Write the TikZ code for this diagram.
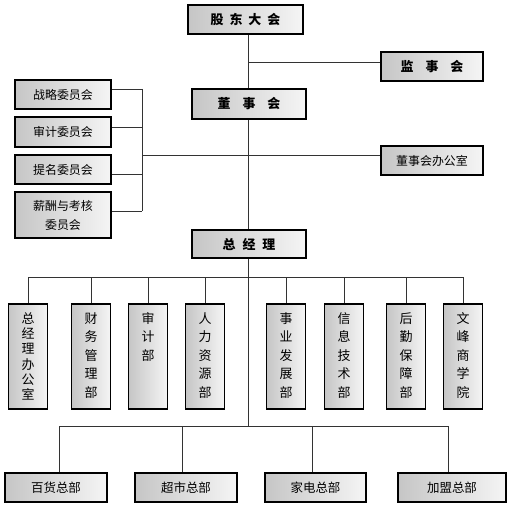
\documentclass[tikz,border=0pt]{standalone}
\usepackage{fontspec}
\newfontfamily\cjk{Noto Sans CJK SC}
\begin{document}
\begin{tikzpicture}[x=1bp,y=-1bp,
  box/.style={draw=black, line width=1.8bp, left color=gray!45, right color=gray!8,
    inner sep=0pt, font=\cjk\fontsize{12}{14}\selectfont},
  hbox/.style={box, minimum width=#1},
  topbox/.style={box, font=\cjk\bfseries\fontsize{13}{15}\selectfont},
  vbox/.style={box, minimum width=39bp, minimum height=105bp},
  vtext/.style={anchor=north, inner sep=0pt, align=center, font=\cjk\fontsize{13}{18.6}\selectfont},
  ln/.style={draw=black!80, line width=0.8bp}]
\useasboundingbox (0,0) rectangle (510,507);

% top level
\node[topbox, minimum width=115bp, minimum height=29bp] (gd) at (245.5,19.5) {股\hspace{6bp}东\hspace{6bp}大\hspace{6bp}会};
\node[topbox, minimum width=102bp, minimum height=29bp] (js) at (432,66.5) {监\hspace{12bp}事\hspace{12bp}会};
\node[topbox, minimum width=114bp, minimum height=30bp] (ds) at (249,104) {董\hspace{12bp}事\hspace{12bp}会};
\node[topbox, minimum width=114bp, minimum height=28bp] (zjl) at (249,244) {总\hspace{7bp}经\hspace{7bp}理};

% committees
\node[box, minimum width=96bp, minimum height=29bp] (zl) at (63,94.5) {战略委员会};
\node[box, minimum width=96bp, minimum height=30bp] (sj) at (63,132) {审计委员会};
\node[box, minimum width=96bp, minimum height=29bp] (tm) at (63,169.5) {提名委员会};
\node[box, minimum width=96bp, minimum height=46bp, align=center, font=\cjk\fontsize{12}{19}\selectfont] (xc) at (63,215) {薪酬与考核\\委员会};
\node[box, minimum width=102bp, minimum height=29bp] (dsb) at (432,160.5) {董事会办公室};

% departments
\node[vbox] (v1) at (28,356.5) {};
\node[vbox] (v2) at (91,356.5) {};
\node[vbox] (v3) at (148,356.5) {};
\node[vbox] (v4) at (205,356.5) {};
\node[vbox] (v5) at (286,356.5) {};
\node[vbox] (v6) at (344,356.5) {};
\node[vbox] (v7) at (406,356.5) {};
\node[vbox] (v8) at (463,356.5) {};
\node[vtext, font=\cjk\fontsize{13}{15.4}\selectfont] (t1) at ([yshift=-9bp]v1.north) {总\\经\\理\\办\\公\\室};
\node[vtext] (t2) at ([yshift=-9bp]v2.north) {财\\务\\管\\理\\部};
\node[vtext] (t3) at ([yshift=-9bp]v3.north) {审\\计\\部};
\node[vtext] (t4) at ([yshift=-9bp]v4.north) {人\\力\\资\\源\\部};
\node[vtext] (t5) at ([yshift=-9bp]v5.north) {事\\业\\发\\展\\部};
\node[vtext] (t6) at ([yshift=-9bp]v6.north) {信\\息\\技\\术\\部};
\node[vtext] (t7) at ([yshift=-9bp]v7.north) {后\\勤\\保\\障\\部};
\node[vtext] (t8) at ([yshift=-9bp]v8.north) {文\\峰\\商\\学\\院};

% bottom divisions
\node[box, minimum width=102bp, minimum height=29bp, font=\cjk\fontsize{12.5}{14}\selectfont] (b1) at (56,487.5) {百货总部};
\node[box, minimum width=102bp, minimum height=29bp, font=\cjk\fontsize{12.5}{14}\selectfont] (b2) at (186,487.5) {超市总部};
\node[box, minimum width=101bp, minimum height=29bp, font=\cjk\fontsize{12.5}{14}\selectfont] (b3) at (315.5,487.5) {家电总部};
\node[box, minimum width=108bp, minimum height=29bp, font=\cjk\fontsize{12.5}{14}\selectfont] (b4) at (452,487.5) {加盟总部};

% junction coordinates
\coordinate (s1) at (248,62);
\coordinate (s2) at (248,155);
\coordinate (k0) at (142,155);
\coordinate (k1) at (142,89);
\coordinate (k2) at (142,127);
\coordinate (k3) at (142,174);
\coordinate (k4) at (142,211);
\coordinate (m1) at (248,277);
\coordinate (m2) at (248,426);
\coordinate (ml) at (28,277);
\coordinate (mr) at (463,277);
\coordinate (nl) at (59,426);
\coordinate (nr) at (448,426);

\begin{scope}[on background layer/.style={}]
\draw[ln] (gd.south -| s1) -- (ds.north -| s1);
\draw[ln] (s1) -- (s1 -| js.west);
\draw[ln] (ds.south -| s1) -- (zjl.north -| s1);
\draw[ln] (k0) -- (k0 -| dsb.west);
\draw[ln] (k1) -- (k4);
\draw[ln] (k1 -| zl.east) -- (k1);
\draw[ln] (k2 -| sj.east) -- (k2);
\draw[ln] (k3 -| tm.east) -- (k3);
\draw[ln] (k4 -| xc.east) -- (k4);
\draw[ln] (zjl.south -| m1) -- (m2);
\draw[ln] (ml) -- (mr);
\foreach \v in {v1,v2,v3,v4,v5,v6,v7,v8} \draw[ln] (\v.north |- m1) -- (\v.north);
\draw[ln] (nl) -- (nr);
\draw[ln] (nl) -- (nl |- b1.north);
\draw[ln] (b2.north |- m2) ++(-4,0) coordinate (q2) -- (q2 |- b2.north);
\draw[ln] (b3.north |- m2) ++(-3.5,0) coordinate (q3) -- (q3 |- b3.north);
\draw[ln] (nr) -- (nr |- b4.north);
\end{scope}
\end{tikzpicture}
\end{document}
